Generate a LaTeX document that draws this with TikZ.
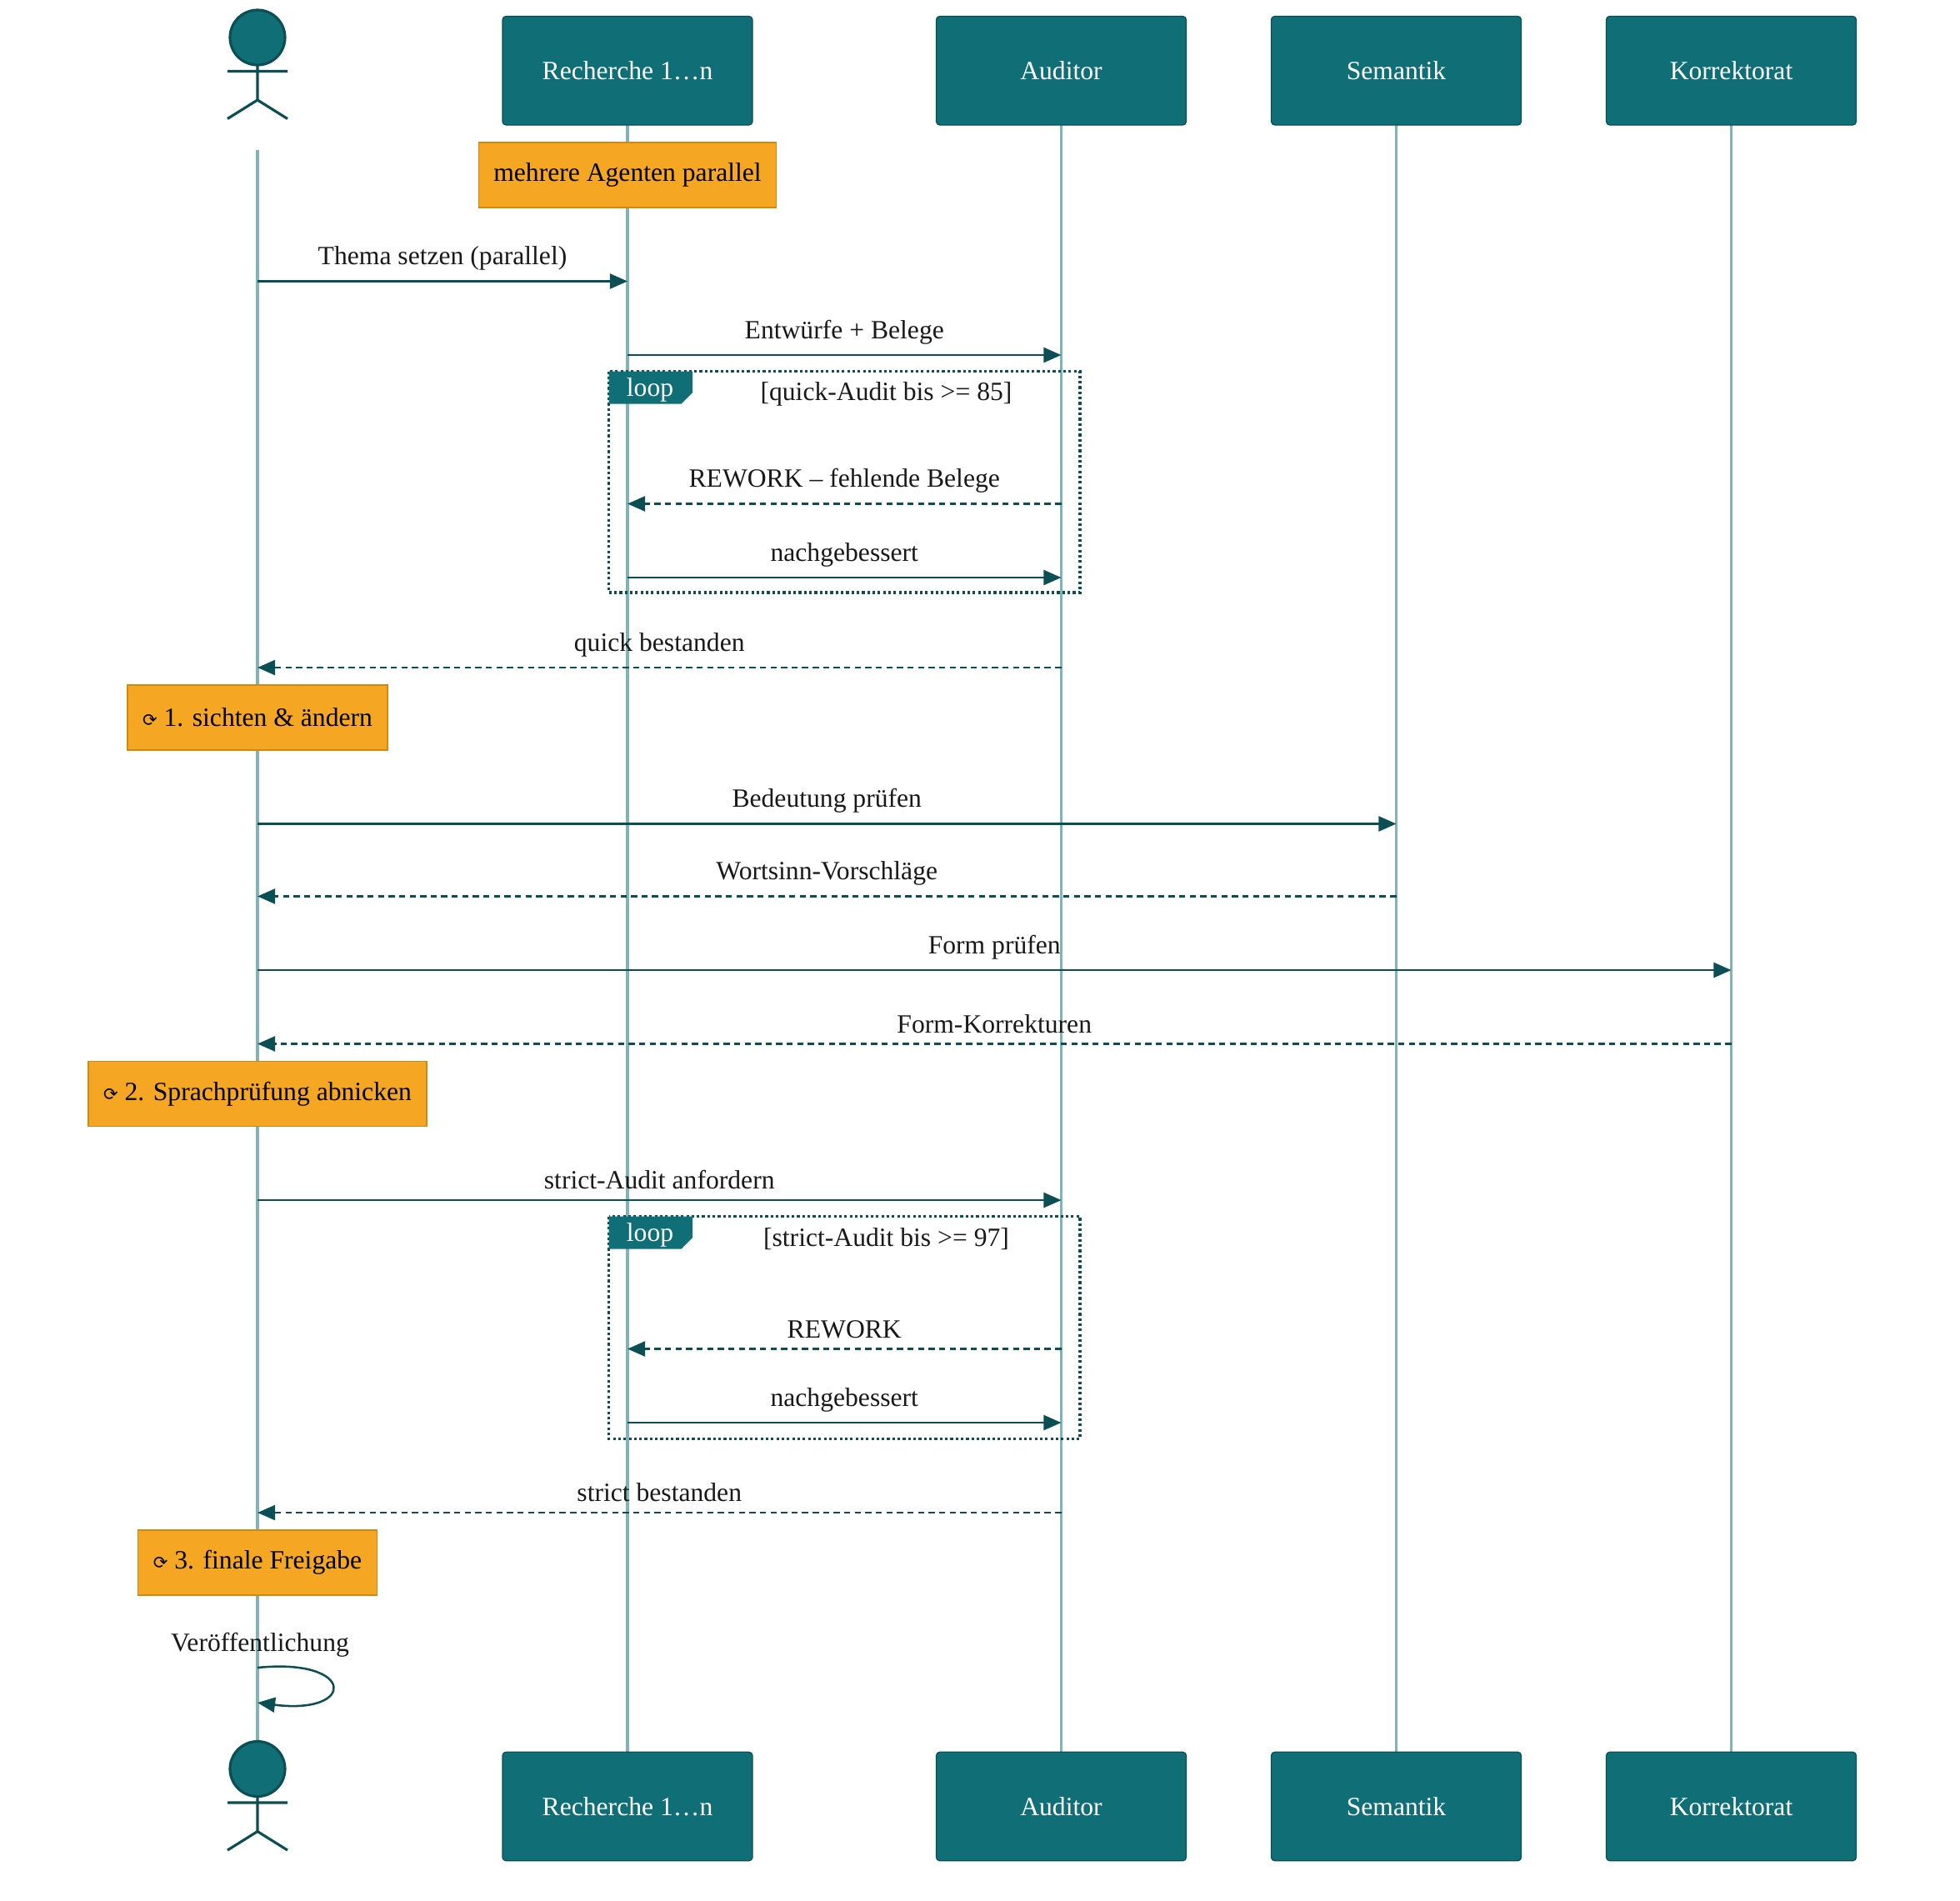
\documentclass[tikz,border=0pt]{standalone}
\usepackage{fontspec}
\setmainfont{Liberation Serif}
\newfontfamily\symf{DejaVu Sans}
\usetikzlibrary{arrows.meta}
\definecolor{teal1}{HTML}{106E76}
\definecolor{tealD}{HTML}{0B4F55}
\definecolor{lifel}{HTML}{80B4B7}
\definecolor{noteO}{HTML}{F5A623}
\definecolor{noteB}{HTML}{D08A10}
\begin{document}
\begin{tikzpicture}[x=0.05cm,y=-0.05cm,font=\fontsize{30}{34}\selectfont,
 part/.style={draw=tealD,fill=teal1,rounded corners=4pt,minimum width=10cm,minimum height=4.35cm,text=white,line width=1.2pt},
 life/.style={draw=lifel,line width=3.5pt},
 msg/.style={draw=tealD,line width=2.4pt,-{Triangle[length=20pt,width=17pt]}},
 rep/.style={msg,dash pattern=on 7pt off 5pt},
 lbl/.style={text=black!90,inner sep=0pt},
 note/.style={draw=noteB,fill=noteO,minimum height=2.6cm,text=black,line width=1.2pt,inner xsep=0.6cm},
 loopb/.style={draw=tealD,line width=3pt,dash pattern=on 3pt off 3pt},
 actor/.style={draw=tealD,line width=3pt}]
\useasboundingbox (0,0) rectangle (1568,1520);
% lifelines
\coordinate (a1) at (206,120); \coordinate (a2) at (206,1400);
\draw[life] (a1) -- (a2);
\foreach \x/\n in {502/r,849/au,1117/s,1385/k}{
 \coordinate (\n t) at (\x,100); \coordinate (\n b) at (\x,1402);
 \draw[life] (\n t) -- (\n b);}
% participants
\foreach \y/\s in {56.5/T,1445/B}{
\node[part] (r\s) at (502,\y) {Recherche 1…n};
\node[part] (au\s) at (849,\y) {Auditor};
\node[part] (s\s) at (1117,\y) {Semantik};
\node[part] (k\s) at (1385,\y) {Korrektorat};}
% actors
\foreach \y in {30,1415}{
 \draw[actor,fill=teal1] (206,\y) circle (1.1cm);
 \draw[actor] (206,\y+22) -- (206,\y+50) (182,\y+27) -- (230,\y+27)
   (206,\y+50) -- (182,\y+65) (206,\y+50) -- (230,\y+65);}
% points
\foreach \n/\x in {A/206,R/502,U/849,S/1117,K/1385}{
 \foreach \y in {225,284,403,462,534,659,717,776,835,960,1079,1138,1210}{
  \coordinate (\n\y) at (\x,\y);}}
\node[note] (n0) at (502,140) {mehrere Agenten parallel};
\draw[msg] (A225) -- node[lbl,above=11pt] {Thema setzen (parallel)} (R225);
\draw[msg] (R284) -- node[lbl,above=11pt] {Entwürfe + Belege} (U284);
% loop 1
\draw[loopb] (487,297) rectangle (864,474);
\fill[teal1] (487,297) -- (554,297) -- (554,314) -- (545,323) -- (487,323) -- cycle;
\node[text=white] (lp1) at (520,312) {loop};
\node[lbl] (lc1) at (709,315) {[quick-Audit bis >= 85]};
\draw[rep] (U403) -- node[lbl,above=11pt] {REWORK – fehlende Belege} (R403);
\draw[msg] (R462) -- node[lbl,above=11pt] {nachgebessert} (U462);
\draw[rep] (U534) -- node[lbl,above=11pt] {quick bestanden} (A534);
\node[note] (n1) at (206,574) {{\symf\fontsize{20}{22}\selectfont ⟳} 1. sichten \& ändern};
\draw[msg] (A659) -- node[lbl,above=11pt] {Bedeutung prüfen} (S659);
\draw[rep] (S717) -- node[lbl,above=11pt] {Wortsinn-Vorschläge} (A717);
\draw[msg] (A776) -- node[lbl,above=11pt] {Form prüfen} (K776);
\draw[rep] (K835) -- node[lbl,above=11pt] {Form-Korrekturen} (A835);
\node[note] (n2) at (206,875) {{\symf\fontsize{20}{22}\selectfont ⟳} 2. Sprachprüfung abnicken};
\draw[msg] (A960) -- node[lbl,above=11pt] {strict-Audit anfordern} (U960);
% loop 2
\draw[loopb] (487,973) rectangle (864,1151);
\fill[teal1] (487,973) -- (554,973) -- (554,990) -- (545,999) -- (487,999) -- cycle;
\node[text=white] (lp2) at (520,988) {loop};
\node[lbl] (lc2) at (709,991) {[strict-Audit bis >= 97]};
\draw[rep] (U1079) -- node[lbl,above=11pt] {REWORK} (R1079);
\draw[msg] (R1138) -- node[lbl,above=11pt] {nachgebessert} (U1138);
\draw[rep] (U1210) -- node[lbl,above=11pt] {strict bestanden} (A1210);
\node[note] (n3) at (206,1250) {{\symf\fontsize{20}{22}\selectfont ⟳} 3. finale Freigabe};
\node[lbl] (pub) at (208,1316) {Veröffentlichung};
\coordinate (s1) at (206,1334); \coordinate (s2) at (206,1362);
\draw[msg] (s1) .. controls (285,1326) and (285,1372) .. (s2);
\end{tikzpicture}
\end{document}
